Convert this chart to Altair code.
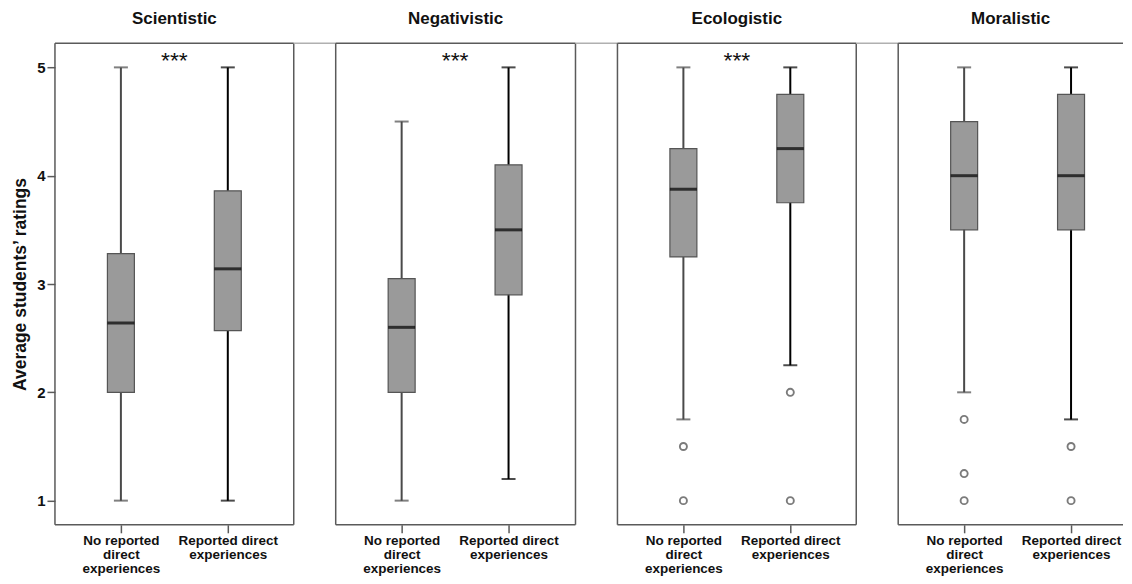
import json
import altair as alt
import pandas as pd

# ---------------- data ----------------
categories = ["Scientistic", "Negativistic", "Ecologistic", "Moralistic"]
groups = ["No reported direct experiences", "Reported direct experiences"]
group_label_lines = [["No reported", "direct", "experiences"], ["Reported direct", "experiences"]]

whisker_low = [[1.0, 1.0], [1.0, 1.2], [1.75, 2.25], [2.0, 1.75]]
q1_vals = [[2.0, 2.57], [2.0, 2.9], [3.25, 3.75], [3.5, 3.5]]
median_vals = [[2.64, 3.14], [2.6, 3.5], [3.875, 4.25], [4.0, 4.0]]
q3_vals = [[3.28, 3.86], [3.05, 4.1], [4.25, 4.75], [4.5, 4.75]]
whisker_high = [[5.0, 5.0], [4.5, 5.0], [5.0, 5.0], [5.0, 5.0]]
outlier_vals = [[[], []], [[], []], [[1.5, 1.0], [2.0, 1.0]], [[1.75, 1.25, 1.0], [1.5, 1.0]]]
significance = ["***", "***", "***", ""]

y_ticks = [1, 2, 3, 4, 5]

# ---------------- layout ----------------
FONT = "Liberation Sans"
PANEL_W = [239, 240, 239, 225]
PANEL_H = 482
SPACING = 42
UNIT_PX = 107.0   # pixels between the two groups
LEFT_PX = 66.0    # pixels from panel left edge to first group
Y_DOMAIN = [0.777, 5.223]

box_color = "#9a9a9a"
frame_color = "#5a5a5a"
whisker_colors = ["#4a4a4a", "#000000"]

label_expr = "datum.value < 0.5 ? {} : {}".format(
    json.dumps(group_label_lines[0]), json.dumps(group_label_lines[1])
)

rows = []
out_rows = []
for ci, cat in enumerate(categories):
    for gi, g in enumerate(groups):
        rows.append(dict(cat=cat, group=g, pos=gi,
                         lo=whisker_low[ci][gi], q1=q1_vals[ci][gi],
                         med=median_vals[ci][gi], q3=q3_vals[ci][gi],
                         hi=whisker_high[ci][gi], wcol=whisker_colors[gi]))
        for v in outlier_vals[ci][gi]:
            out_rows.append(dict(cat=cat, group=g, pos=gi, val=v))
box_df = pd.DataFrame(rows)
out_df = pd.DataFrame(out_rows)

panels = []
for ci, cat in enumerate(categories):
    W = PANEL_W[ci]
    xdom = [-LEFT_PX / UNIT_PX, (W - LEFT_PX) / UNIT_PX]
    xscale = alt.Scale(domain=xdom, nice=False, zero=False, padding=0)
    yscale = alt.Scale(domain=Y_DOMAIN, nice=False, zero=False, padding=0)
    first = ci == 0
    last = ci == len(categories) - 1

    xaxis = alt.Axis(values=[0, 1], labelExpr=label_expr, title=None, grid=False,
                     domain=False, ticks=True, tickSize=8, tickColor=frame_color,
                     tickWidth=1.5, labelFont=FONT, labelFontSize=13.5,
                     labelFontWeight="bold", labelColor="#111", labelLineHeight=14,
                     labelPadding=1, labelAngle=0, labelBaseline="top")
    if first:
        yaxis = alt.Axis(values=y_ticks, format="d", title="Average students\u2019 ratings",
                         grid=False, domain=False, tickSize=8, tickColor=frame_color,
                         tickWidth=1.5, labelFont=FONT, labelFontSize=15,
                         labelFontWeight="bold", labelColor="#111", labelPadding=2,
                         titleFont=FONT, titleFontSize=17.5, titleFontWeight="bold",
                         titleColor="#111", titlePadding=7)
    else:
        yaxis = None

    bdf = box_df[box_df.cat == cat]
    base = alt.Chart(bdf)
    x_enc = alt.X("pos:Q", scale=xscale, axis=xaxis)

    whisk = base.mark_rule(strokeWidth=2).encode(
        x=x_enc,
        y=alt.Y("lo:Q", scale=yscale, axis=yaxis),
        y2="hi:Q",
        color=alt.Color("wcol:N", scale=None),
    )
    caps_lo = base.mark_tick(orient="horizontal", size=14, thickness=2).encode(
        x=alt.X("pos:Q", scale=xscale), y=alt.Y("lo:Q", scale=yscale),
        color=alt.Color("wcol:N", scale=None))
    caps_hi = base.mark_tick(orient="horizontal", size=14, thickness=2).encode(
        x=alt.X("pos:Q", scale=xscale), y=alt.Y("hi:Q", scale=yscale),
        color=alt.Color("wcol:N", scale=None))
    box = base.mark_bar(size=27, color=box_color, stroke="#555555", strokeWidth=1.2).encode(
        x=alt.X("pos:Q", scale=xscale), y=alt.Y("q1:Q", scale=yscale), y2="q3:Q")
    med = base.mark_tick(orient="horizontal", size=27, thickness=3, color="#000").encode(
        x=alt.X("pos:Q", scale=xscale), y=alt.Y("med:Q", scale=yscale))

    layers = [whisk, caps_lo, caps_hi, box, med]

    odf = out_df[out_df.cat == cat] if len(out_df) else out_df
    if len(odf):
        pts = alt.Chart(odf).mark_point(shape="circle", filled=False, size=50,
                                        strokeWidth=1.9, color="#444444").encode(
            x=alt.X("pos:Q", scale=xscale), y=alt.Y("val:Q", scale=yscale))
        layers.append(pts)

    if significance[ci]:
        sig = alt.Chart(pd.DataFrame({"s": [significance[ci]], "x": [0.5]})).mark_text(
            font=FONT, fontSize=23, baseline="alphabetic", color="#111"
        ).encode(x=alt.X("x:Q", scale=xscale), y=alt.value(25), text="s:N")
        layers.append(sig)

    # panel frame
    fr = alt.Chart(pd.DataFrame({"d": [0]}))
    frame = [
        fr.mark_rule(color=frame_color, strokeWidth=1.5).encode(
            x=alt.value(0), x2=alt.value(W), y=alt.value(0)),
        fr.mark_rule(color=frame_color, strokeWidth=1.5).encode(
            x=alt.value(0), x2=alt.value(W), y=alt.value(PANEL_H)),
        fr.mark_rule(color=frame_color, strokeWidth=1.5).encode(
            x=alt.value(0), y=alt.value(0), y2=alt.value(PANEL_H)),
    ]
    if not last:
        frame.append(fr.mark_rule(color=frame_color, strokeWidth=1.5).encode(
            x=alt.value(W), y=alt.value(0), y2=alt.value(PANEL_H)))
        frame.append(fr.mark_rule(color="#b0b0b0", strokeWidth=1.5).encode(
            x=alt.value(W), x2=alt.value(W + SPACING), y=alt.value(0)))
    layers = frame + layers

    panel = alt.layer(*layers).properties(
        width=W, height=PANEL_H,
        title=alt.TitleParams(cat, font=FONT, fontSize=17, fontWeight="bold",
                              color="#111", anchor="middle", offset=14),
    )
    panels.append(panel)

chart = alt.hconcat(*panels, spacing=SPACING, bounds="flush").configure_view(
    stroke=None
).properties(
    padding={"left": 3, "top": 2, "right": 0, "bottom": 0}
)

chart.save("out.html", embed_options={"renderer": "svg", "actions": False})
